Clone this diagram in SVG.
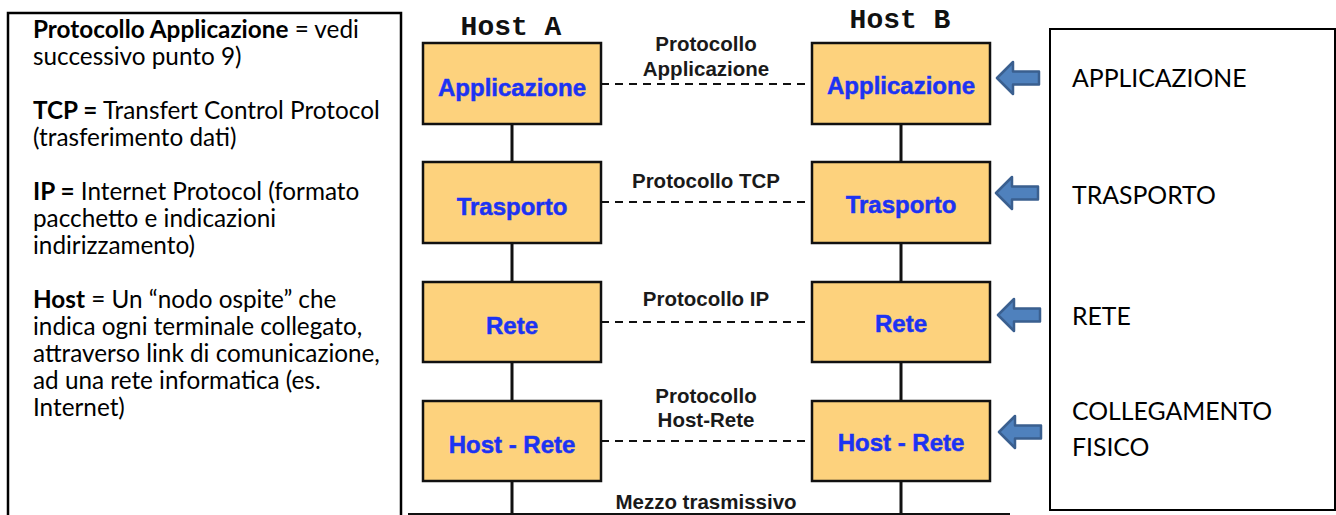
<svg xmlns="http://www.w3.org/2000/svg" width="1336" height="515" viewBox="0 0 1336 515">
  <defs>
    <style>
      .frame { fill: none; stroke: #000; stroke-width: 2.5; }
      .note { font-family: Lato, "Open Sans", sans-serif; font-size: 24.3px; fill: #000; }
      .note .b { font-weight: bold; }
      .layername { font-family: Lato, "Open Sans", sans-serif; font-size: 24.8px; fill: #000; }
      .host { font-family: "Liberation Mono", "Courier New", monospace; font-weight: bold; font-size: 28px; fill: #111; text-anchor: middle; }
      .box { fill: #fdd27d; stroke: #111; stroke-width: 2.5; }
      .lbl { font-family: "Liberation Sans", Arial, sans-serif; font-weight: bold; font-size: 24px; fill: #1c33f2; stroke: #1c33f2; stroke-width: 0.5; text-anchor: middle; }
      .proto { font-family: "Liberation Sans", Arial, sans-serif; font-weight: bold; font-size: 20.5px; fill: #1a1a1a; text-anchor: middle; }
      .stack { stroke: #111; stroke-width: 3; fill: none; }
      .peer { stroke: #111; stroke-width: 2; stroke-dasharray: 8 6; fill: none; }
      .arrow { fill: #4f81bd; stroke: #3a5f8f; stroke-width: 2.5; stroke-linejoin: round; }
    </style>
    <path id="leftArrow" d="M0,0 L16,-16 L16,-6.5 L42,-6.5 L42,6.5 L16,6.5 L16,16 Z"/>
  </defs>

  <rect width="1336" height="515" fill="#fff"/>

  <!-- glossary panel -->
  <g id="glossary">
    <path class="frame" d="M8,520 V13 H401 V520"/>
    <text class="note" x="33" y="38"><tspan class="b">Protocollo Applicazione</tspan> = vedi</text>
    <text class="note" x="33" y="65">successivo punto 9)</text>
    <text class="note" x="33" y="119"><tspan class="b">TCP =</tspan> Transfert Control Protocol</text>
    <text class="note" x="33" y="146">(trasferimento dati)</text>
    <text class="note" x="33" y="200"><tspan class="b">IP =</tspan> Internet Protocol (formato</text>
    <text class="note" x="33" y="227">pacchetto e indicazioni</text>
    <text class="note" x="33" y="254">indirizzamento)</text>
    <text class="note" x="33" y="308"><tspan class="b">Host</tspan> = Un “nodo ospite” che</text>
    <text class="note" x="33" y="335">indica ogni terminale collegato,</text>
    <text class="note" x="33" y="362">attraverso link di comunicazione,</text>
    <text class="note" x="33" y="389">ad una rete informatica (es.</text>
    <text class="note" x="33" y="416">Internet)</text>
  </g>

  <!-- bottom edge of the stack figure -->
  <line x1="408" y1="514" x2="1010" y2="514" stroke="#111" stroke-width="2"/>

  <!-- host titles -->
  <text class="host" x="511" y="35">Host A</text>
  <text class="host" x="900" y="28">Host B</text>

  <!-- connectors: vertical stack links and dashed peer protocols -->
  <g id="connectors">
    <path class="stack" d="M512,124 V162 M512,243 V282 M512,362 V401 M512,481 V515"/>
    <path class="stack" d="M901,124 V162 M901,243 V282 M901,362 V401 M901,481 V515"/>
    <line class="peer" x1="601" y1="84" x2="812" y2="84"/>
    <line class="peer" x1="601" y1="202" x2="812" y2="202"/>
    <line class="peer" x1="601" y1="322" x2="812" y2="322"/>
    <line class="peer" x1="601" y1="441" x2="812" y2="441"/>
    <text class="proto" x="706" y="51">Protocollo</text>
    <text class="proto" x="706" y="76">Applicazione</text>
    <text class="proto" x="706" y="188">Protocollo TCP</text>
    <text class="proto" x="706" y="306">Protocollo IP</text>
    <text class="proto" x="706" y="403">Protocollo</text>
    <text class="proto" x="706" y="427">Host-Rete</text>
    <text class="proto" x="706" y="509">Mezzo trasmissivo</text>
  </g>

  <!-- Host A layers -->
  <g id="a-applicazione">
    <rect class="box" x="423" y="43" width="178" height="81"/>
    <text class="lbl" x="512" y="96">Applicazione</text>
  </g>
  <g id="a-trasporto">
    <rect class="box" x="423" y="162" width="178" height="81"/>
    <text class="lbl" x="512" y="215">Trasporto</text>
  </g>
  <g id="a-rete">
    <rect class="box" x="423" y="282" width="178" height="80"/>
    <text class="lbl" x="512" y="334">Rete</text>
  </g>
  <g id="a-host-rete">
    <rect class="box" x="423" y="401" width="178" height="80"/>
    <text class="lbl" x="512" y="453">Host - Rete</text>
  </g>

  <!-- Host B layers -->
  <g id="b-applicazione">
    <rect class="box" x="812" y="43" width="178" height="81"/>
    <text class="lbl" x="901" y="94">Applicazione</text>
  </g>
  <g id="b-trasporto">
    <rect class="box" x="812" y="162" width="178" height="81"/>
    <text class="lbl" x="901" y="213">Trasporto</text>
  </g>
  <g id="b-rete">
    <rect class="box" x="812" y="282" width="178" height="80"/>
    <text class="lbl" x="901" y="332">Rete</text>
  </g>
  <g id="b-host-rete">
    <rect class="box" x="812" y="401" width="178" height="80"/>
    <text class="lbl" x="901" y="451">Host - Rete</text>
  </g>

  <!-- layer names panel with pointing arrows -->
  <g id="layer-names">
    <rect x="1050" y="29" width="285" height="481" fill="none" stroke="#000" stroke-width="2"/>
    <use href="#leftArrow" class="arrow" x="997" y="78"/>
    <use href="#leftArrow" class="arrow" x="996" y="193"/>
    <use href="#leftArrow" class="arrow" x="998" y="315"/>
    <use href="#leftArrow" class="arrow" x="999" y="432"/>
    <text class="layername" x="1072" y="87">APPLICAZIONE</text>
    <text class="layername" x="1072" y="204">TRASPORTO</text>
    <text class="layername" x="1072" y="325">RETE</text>
    <text class="layername" x="1072" y="420">COLLEGAMENTO</text>
    <text class="layername" x="1072" y="456">FISICO</text>
  </g>
</svg>
